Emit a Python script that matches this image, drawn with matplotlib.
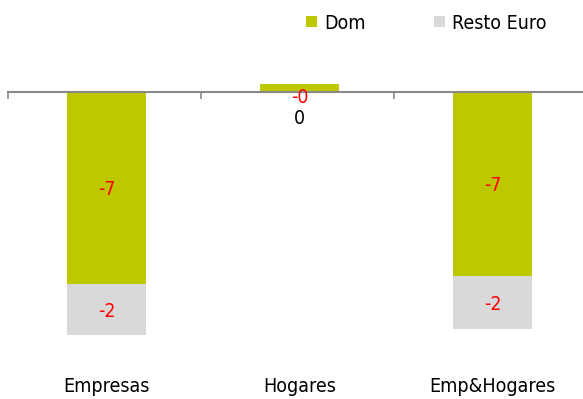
import matplotlib
matplotlib.use("Agg")
import matplotlib.pyplot as plt
import numpy as np

categorias = ["Empresas", "Hogares", "Emp&Hogares"]
dom = [-7.0, 0.3, -6.7]
resto_euro = [-1.85, 0.0, -1.95]
dom_etiquetas = ["-7", "-0", "-7"]
resto_etiquetas = ["-2", "", "-2"]
total_hogares = "0"

verde = "#BDC800"
gris = "#D9D9D9"
rojo = "#FF0000"

plt.rcParams["font.family"] = ["DejaVu Sans"]
plt.rcParams["font.stretch"] = "condensed"

fig = plt.figure(figsize=(5.83, 3.99), dpi=100)
ax = fig.add_axes([8 / 583, 0, 579 / 583, 1])

x = np.arange(len(categorias))
dom = np.array(dom)
resto_euro = np.array(resto_euro)
base_resto = np.where(dom < 0, dom, 0)

ax.bar(x + 0.01, dom, width=0.41, color=verde, label="Dom", zorder=2)
ax.bar(x + 0.01, resto_euro, width=0.41, bottom=base_resto, color=gris, label="Resto Euro", zorder=2)

for i in range(len(x)):
    # barras muy cortas: la etiqueta queda junto al eje
    y_dom = dom[i] / 2 if abs(dom[i]) > 0.5 else -0.12
    ax.text(x[i] + 0.01, y_dom, dom_etiquetas[i], color=rojo, fontsize=14,
            ha="center", va="center_baseline", zorder=3)
    if resto_etiquetas[i]:
        ax.text(x[i] + 0.01, base_resto[i] + resto_euro[i] / 2, resto_etiquetas[i], color=rojo,
                fontsize=14, ha="center", va="center_baseline", zorder=3)
ax.text(x[1] + 0.01, -0.95, total_hogares, color="black", fontsize=14, ha="center", va="center")

for i, c in enumerate(categorias):
    ax.text(x[i] + 0.01, -10.73, c, fontsize=14, ha="center", va="center")

ax.set_xlim(-0.5, 2.5)
ax.set_ylim(-11.2, 3.36)

ax.spines[["top", "left", "right"]].set_visible(False)
ax.spines["bottom"].set_position(("data", 0))
ax.spines["bottom"].set_color("#888888")
ax.spines["bottom"].set_linewidth(1.5)
ax.set_yticks([])
ax.set_xticks([-0.5, 0.5, 1.5, 2.5])
ax.set_xticklabels([])
ax.tick_params(axis="x", direction="out", length=5, width=1.2, color="#888888")

leg = ax.legend(loc="upper left", bbox_to_anchor=(292 / 583, 1.0), bbox_transform=fig.transFigure,
                ncol=2, frameon=False, fontsize=14, handlelength=0.6, handleheight=0.5,
                handletextpad=0.35, columnspacing=3.5, borderaxespad=0.3)

fig.savefig("out.png", dpi=100)
